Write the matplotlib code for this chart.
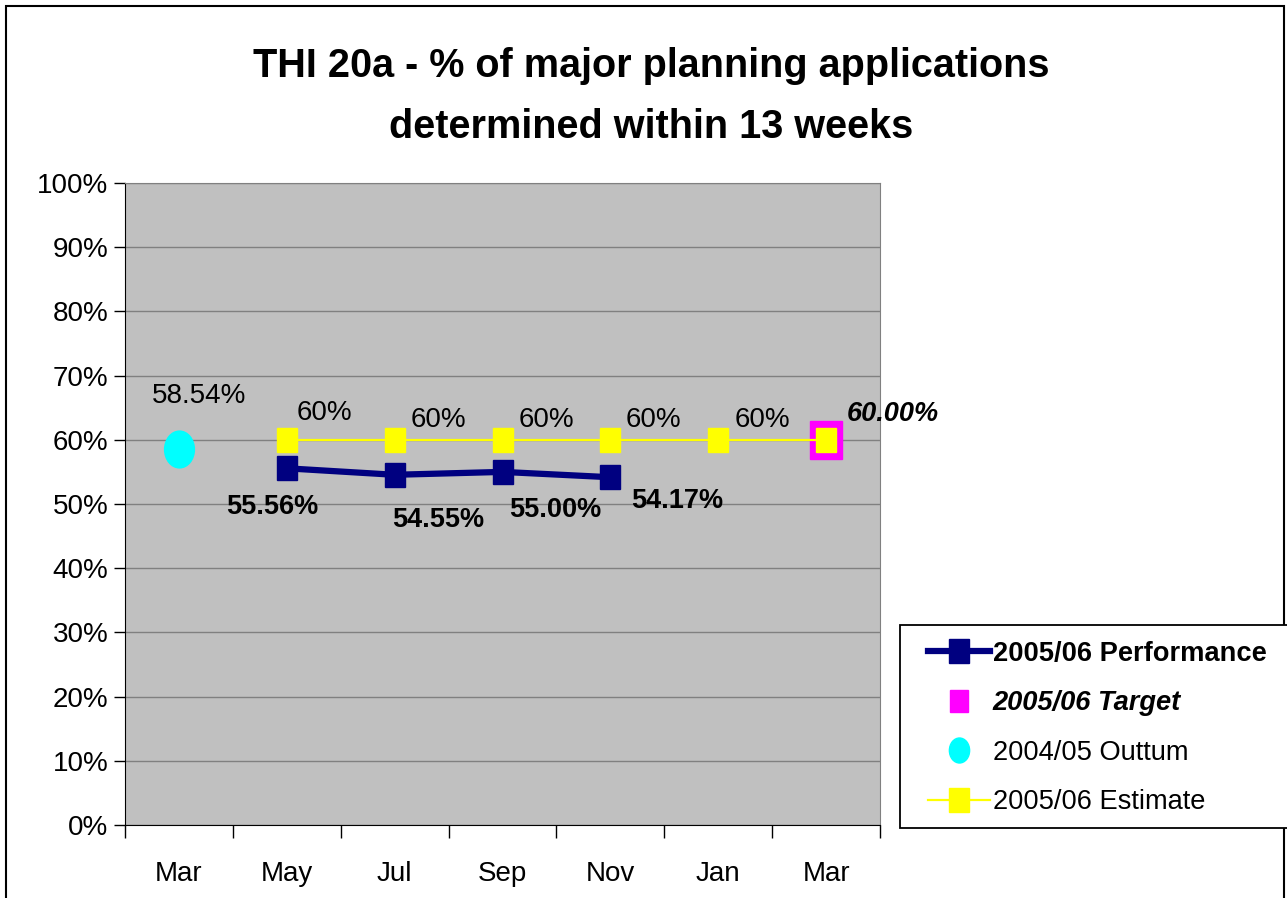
import matplotlib
matplotlib.use("Agg")
import matplotlib.pyplot as plt
from matplotlib import font_manager
from matplotlib.markers import MarkerStyle
from matplotlib.transforms import Affine2D
from matplotlib.patches import Rectangle

months = ["Mar", "May", "Jul", "Sep", "Nov", "Jan", "Mar"]
perf_x = [1, 2, 3, 4]
perf_vals = [0.5556, 0.5455, 0.5500, 0.5417]
est_x = [1, 2, 3, 4, 5, 6]
est_vals = [0.60, 0.60, 0.60, 0.60, 0.60, 0.60]
target_x = [6]
target_vals = [0.60]
outturn_x = [0]
outturn_vals = [0.5854]

# label offsets in pixels (dx, dy) relative to the point
perf_off = [(-15, -39), (44, -45), (53, -38), (67, -24)]
est_off = [(38, 27), (44, 20), (44, 20), (43, 20), (44, 20)]

plt.rcParams['font.family'] = ['Liberation Sans', 'DejaVu Sans']


def has_font(name):
    try:
        font_manager.findfont(font_manager.FontProperties(family=name),
                              fallback_to_default=False)
        return True
    except ValueError:
        return False


if has_font('Liberation Sans Narrow'):
    title_font, title_size = 'Liberation Sans Narrow', 34
else:
    title_font, title_size = 'Liberation Sans', 28.5

fig = plt.figure(figsize=(12.87, 8.98), dpi=100)
ax = fig.add_axes([125 / 1287, 1 - 825 / 898, 755 / 1287, 642 / 898])
ax.set_facecolor('#C0C0C0')

sq = MarkerStyle('s', transform=Affine2D().scale(1, 1.17))
ell = MarkerStyle('o', transform=Affine2D().scale(0.81, 1))

ax.plot(perf_x, perf_vals, color='#000080', lw=4.5, marker=sq, ms=15,
        mec='#000080', mfc='#000080', zorder=5, label='2005/06 Performance')
ax.plot(target_x, target_vals, ls='none', marker=sq, ms=23, color='#FF00FF',
        zorder=4, label='2005/06 Target')
ax.plot(outturn_x, outturn_vals, ls='none', marker=ell, ms=26.5, color='#00FFFF',
        zorder=4, label='2004/05 Outtum')
ax.plot(est_x, est_vals, color='#FFFF00', lw=1.6, marker=sq, ms=15,
        mec='#FFFF00', mfc='#FFFF00', zorder=6, label='2005/06 Estimate')

for x, v, off in zip(perf_x, perf_vals, perf_off):
    ax.annotate(f"{v * 100:.2f}%", (x, v), xytext=off, textcoords='offset pixels',
                ha='center', va='center', fontsize=19.5, fontweight='bold', zorder=7)
for x, v, off in zip(est_x[:-1], est_vals[:-1], est_off):
    ax.annotate(f"{v * 100:.0f}%", (x, v), xytext=off, textcoords='offset pixels',
                ha='center', va='center', fontsize=20, zorder=7)
ax.annotate(f"{target_vals[0] * 100:.2f}%", (target_x[0], target_vals[0]),
            xytext=(67, 26), textcoords='offset pixels', ha='center', va='center',
            fontsize=19.5, fontweight='bold', fontstyle='italic', zorder=7,
            annotation_clip=False)
ax.annotate(f"{outturn_vals[0] * 100:.2f}%", (outturn_x[0], outturn_vals[0]),
            xytext=(20, 53), textcoords='offset pixels', ha='center', va='center',
            fontsize=20, zorder=7)

ax.set_ylim(0, 1)
ax.set_yticks([i / 10 for i in range(11)])
ax.set_yticklabels([f"{i * 10}%" for i in range(11)])
ax.set_xlim(-0.5, len(months) - 0.5)
ax.set_xticks([i - 0.5 for i in range(len(months) + 1)])
ax.set_xticklabels([])
ax.set_xticks(range(len(months)), minor=True)
ax.set_xticklabels(months, minor=True)
ax.tick_params(axis='x', which='major', length=9, width=1, color='black', direction='out')
ax.tick_params(axis='x', which='minor', length=0, pad=26, labelsize=20)
ax.tick_params(axis='y', length=8, width=1, color='black', direction='out',
               labelsize=20, pad=4)
ax.yaxis.grid(True, color='#808080', lw=1)
ax.set_axisbelow(True)
for s in ['top', 'right']:
    ax.spines[s].set_color('#808080')
for s in ['left', 'bottom']:
    ax.spines[s].set_color('black')

# legend box drawn separately so the inner padding can match
fig.add_artist(Rectangle((900 / 1287, 1 - 828 / 898), 400 / 1287, 203 / 898,
                         transform=fig.transFigure, facecolor='white',
                         edgecolor='black', lw=1.3, zorder=2))
handles, labels = ax.get_legend_handles_labels()
leg = fig.legend(handles, labels, loc='upper left',
                 bbox_to_anchor=(928 / 1287, 1 - 641 / 898),
                 fontsize=19.6, frameon=False,
                 labelspacing=0.86, handlelength=2.27, handletextpad=0.1,
                 borderpad=0, borderaxespad=0)
leg.set_zorder(3)
txts = leg.get_texts()
txts[0].set_fontweight('bold')
txts[1].set_fontweight('bold')
txts[1].set_fontstyle('italic')
hnds = leg.legend_handles
hnds[1].set_markersize(13)
hnds[2].set_markersize(18)

fig.text(651 / 1287, 1 - 66 / 898, "THI 20a - % of major planning applications",
         ha='center', va='center', fontsize=title_size, fontweight='bold',
         family=title_font)
fig.text(651 / 1287, 1 - 127 / 898, "determined within 13 weeks",
         ha='center', va='center', fontsize=title_size, fontweight='bold',
         family=title_font)

fig.add_artist(Rectangle((6 / 1287, -0.05), 1278 / 1287, 0.05 + 1 - 6 / 898,
                         transform=fig.transFigure, fill=False,
                         edgecolor='black', lw=1.5))

fig.savefig("out.png", dpi=100)
